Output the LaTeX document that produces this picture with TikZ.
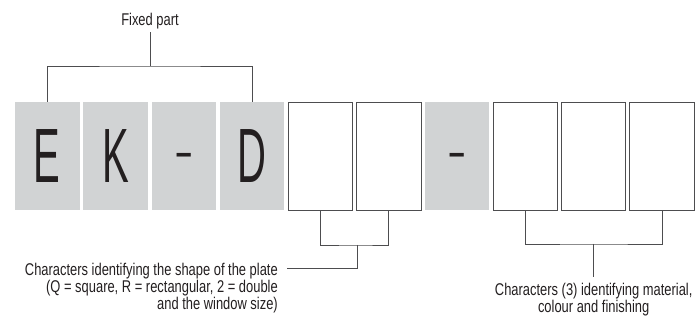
\documentclass[tikz,border=0pt]{standalone}
\usepackage{fontspec}
\setmainfont[FakeStretch=0.76]{Liberation Sans}
\newfontfamily\codefont[FakeStretch=0.52]{Liberation Sans}
\definecolor{slotgray}{HTML}{D1D3D4}
\definecolor{inkgray}{HTML}{4D4D4F}
\definecolor{textblack}{HTML}{231F20}
\newcommand{\codehyphen}{\raisebox{15pt}{\scalebox{1.45}[0.6]{-}}}
\tikzset{
  fixedbox/.style={fill=slotgray, minimum width=64.5pt, minimum height=108pt, inner sep=0pt,
    text height=53pt, text depth=0pt, font=\codefont\fontsize{77}{77}\selectfont},
  slotbox/.style={fixedbox, fill=white, draw=inkgray, line width=0.9pt},
  bracket/.style={draw=inkgray, line width=0.9pt},
}
\begin{document}
\begin{tikzpicture}[x=1pt,y=-1pt, font=\fontsize{17}{13.6}\selectfont, text=textblack]
\useasboundingbox (0,0) rectangle (697,320);

% ===== Code boxes: 10 slots =====
\foreach \t/\s [count=\i] in {E/fixedbox,K/fixedbox,\codehyphen/fixedbox,D/fixedbox,/slotbox,/slotbox,\codehyphen/fixedbox,/slotbox,/slotbox,/slotbox} {
  \node[\s] (b\i) at (47.25+68.3*\i-68.3,156) {\t};
}

% ===== Fixed part bracket =====
\node (fixed) at (150,21) {Fixed part};
\coordinate (fixbar) at (150,66);
\draw[bracket] (b1.north) |- (fixbar) -| (b4.north);
\draw[bracket] (fixbar) -- (fixed.south);

% ===== Shape bracket =====
\coordinate (shapebar) at (357,245);
\coordinate (shapeend) at (287,268);
\draw[bracket] (b5.south) |- (shapebar) -| (b6.south);
\draw[bracket] (shapebar) |- (shapeend);
\node[anchor=north east, align=right, inner sep=2pt] (shape) at (280,261)
  {Characters identifying the shape of the plate\\(Q = square, R = rectangular, 2 = double\\and the window size)};

% ===== Finish bracket =====
\coordinate (finbar) at (593.7,244);
\draw[bracket] (b8.south) |- (finbar) -| (b10.south);
\node[anchor=north, align=center, inner sep=2pt] (finish) at (593.7,281)
  {Characters (3) identifying material,\\colour and finishing};
\draw[bracket, shorten >=4pt] (finbar) -- (finish.north);

\end{tikzpicture}
\end{document}
